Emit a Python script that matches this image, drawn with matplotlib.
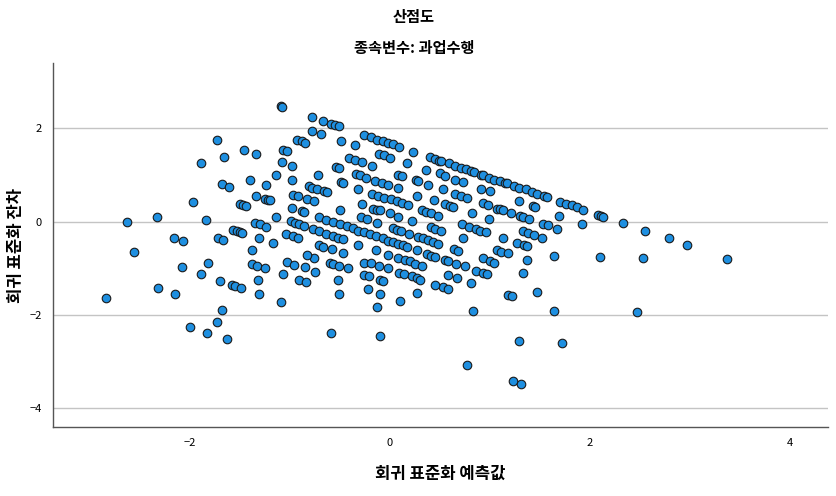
import numpy as np
import matplotlib
matplotlib.use("Agg")
import matplotlib.pyplot as plt

plt.rcParams['font.family'] = ['Noto Sans CJK KR', 'DejaVu Sans']

# 회귀 표준화 예측값 (x) / 회귀 표준화 잔차 (y)
pred = [
    -2.63, -2.33, -2.16, -2.56, -2.84, -2.32, -2.15,
    -1.09, -1.08, -1.73, -1.46, -1.34, -1.66, -1.89, -0.93, -0.88, -0.85, -1.07, -1.03,
    -1.08, -0.98, -1.14, -1.40, -0.98, -1.68, -1.61, -1.24, -0.81, -1.34, -0.97, -0.92,
    -0.83, -1.25, -1.22, -1.20, -1.97, -1.50, -1.47, -1.44,
    -0.78, -0.67, -0.59, -0.55, -0.51, -0.78, -0.69, -0.49, -0.35, -0.26, -0.19, -0.13,
    -0.07, -0.02, 0.03, 0.09, 0.23, -0.11, -0.06, 0.00, -0.41, -0.35, -0.28, -0.18, 0.17,
    -0.54, -0.51, -0.72, -0.34, -0.30, -0.24, -0.15, -0.08, -0.02, 0.08, 0.12, -0.49,
    -0.47, -0.32, 0.08, 0.26, 0.28, 0.38, 0.36, 0.40, 0.45, 0.49, -0.78, -0.73, -0.66,
    -0.63, -0.76, -0.18, -0.12, -0.06, 0.01, 0.07, 0.12, -0.28, 0.27, 0.44,
    0.51, 0.59, 0.65, 0.71, 0.76, 0.81, 0.84, 0.91, 0.93, 0.99, 1.04, 1.10, 1.15, 1.17,
    1.24, 1.29, 1.36, 1.42, 1.47, 1.54, 1.57, 1.70, 1.76, 1.82, 1.87, 0.50, 0.55, 0.65,
    0.73, 0.53, 0.65, 0.71, 0.77, 0.91, 1.00, 0.55, 0.60, 0.63, 0.93, 0.98, 1.29, 1.43,
    1.45,
    0.82, 1.07, 1.10, 1.13, 1.21, 1.30, 1.33, 1.39, 0.99, 1.69, 0.72, 0.79, 0.86, 0.90,
    0.96, 1.53, 1.58, 1.67, 0.73, 1.13, 1.33, 1.38, 1.44, 1.52, 0.64, 0.68, 1.07, 1.11,
    1.18, 1.27, 1.34, 1.37, 1.64, 0.55, 0.58, 0.66, 0.75, 0.93, 1.00, 1.04, 1.37, 0.58,
    0.67, 0.86, 0.93, 0.97, 1.33, 0.81, 0.53, 0.58, 1.18, 1.22, 1.47, 0.83, 1.64,
    -0.50, -0.17, -0.13, -0.10, 0.00, 0.08, 0.18, 0.32, 0.36, 0.41, 0.48, -0.29, -0.23,
    -0.13, 0.22, -0.71, -0.64, -0.57, -0.50, -0.43, -0.37, -0.32, -0.26, -0.20, -0.14,
    -0.07, -0.02, 0.03, 0.08, 0.13, 0.17, -0.77, -0.71, -0.64, -0.57, -0.52, -0.47,
    0.03, 0.07, 0.11, 0.19, 0.28, 0.33, 0.38, 0.43, 0.48, 0.41, 0.45, 0.51, -0.71, -0.67,
    -0.58, -0.47, -0.32, -0.14, -0.02, -0.76, -0.75, -0.60, -0.57, -0.51, -0.42, -0.26,
    -0.19, -0.11, -0.02, 0.08, 0.15, 0.20, 0.25, 0.32, 0.27, 0.37, 0.41, 0.45, -0.26,
    -0.21, -0.10, -0.07, 0.09, 0.14, 0.22, 0.27, 0.30, 0.45, -0.52, -0.51, -0.22, -0.10,
    -0.13, 0.10, 0.27,
    -0.98, -0.88, -0.86, -1.14, -1.84, -1.35, -1.30, -1.24, -0.99, -0.95, -0.91, -0.86,
    -1.57, -1.53, -1.50, -1.48, -2.07, -1.72, -1.67, -1.31, -1.17, -1.04, -0.97, -0.92,
    -1.38, -0.83, -1.82, -2.08, -1.38, -1.33, -1.25, -1.03, -0.96, -0.85, -1.89, -1.70,
    -1.58, -1.55, -1.49, -1.32, -1.07, -0.91, -0.84, -1.31, -1.09, -1.68,
    -2.00, -1.83, -1.73, -1.63, -0.59, -0.10, 1.29, 1.72, 0.77, 1.23, 1.31,
    1.93, 2.08, 2.11, 2.13, 2.33, 2.55, 2.79, 2.97, 3.37, 1.92, 2.10, 2.53, 2.47,
]
resid = [
    0.00, 0.09, -0.34, -0.64, -1.64, -1.42, -1.55,
    2.47, 2.46, 1.74, 1.54, 1.46, 1.39, 1.26, 1.76, 1.72, 1.69, 1.54, 1.52,
    1.27, 1.19, 1.01, 0.90, 0.89, 0.81, 0.75, 0.78, 0.76, 0.55, 0.58, 0.55,
    0.49, 0.49, 0.46, 0.46, 0.42, 0.37, 0.35, 0.33,
    2.24, 2.16, 2.10, 2.07, 2.04, 1.94, 1.87, 1.73, 1.64, 1.86, 1.81, 1.76,
    1.73, 1.69, 1.66, 1.60, 1.50, 1.46, 1.42, 1.37, 1.37, 1.33, 1.28, 1.20, 1.25,
    1.17, 1.14, 1.00, 1.02, 0.99, 0.94, 0.88, 0.83, 0.78, 1.01, 0.97, 0.85,
    0.82, 0.71, 0.72, 0.90, 0.88, 0.78, 1.11, 1.39, 1.35, 1.30, 0.73, 0.71, 0.65,
    0.64, 0.44, 0.60, 0.55, 0.50, 0.48, 0.44, 0.41, 0.38, 0.56, 0.46,
    1.30, 1.25, 1.19, 1.15, 1.12, 1.08, 1.07, 1.01, 0.99, 0.94, 0.90, 0.87, 0.83, 0.82,
    0.76, 0.73, 0.69, 0.64, 0.60, 0.55, 0.52, 0.42, 0.38, 0.35, 0.31, 1.05, 0.97, 0.90,
    0.85, 0.69, 0.60, 0.55, 0.50, 0.71, 0.65, 0.37, 0.33, 0.32, 0.39, 0.35, 0.44, 0.33,
    0.31,
    0.18, 0.28, 0.27, 0.24, 0.19, 0.12, 0.09, 0.05, 0.05, 0.13, -0.06, -0.11, -0.16, -0.19,
    -0.23, -0.04, -0.08, -0.15, -0.35, -0.36, -0.19, -0.24, -0.29, -0.34, -0.59, -0.63, -0.61, -0.64,
    -0.68, -0.45, -0.51, -0.53, -0.73, -0.83, -0.85, -0.90, -0.96, -0.78, -0.85, -0.88, -0.83, -1.14,
    -1.20, -1.06, -1.10, -1.13, -1.09, -1.31, -1.40, -1.45, -1.57, -1.60, -1.50, -1.92, -1.92,
    0.24, 0.28, 0.26, 0.24, 0.18, 0.11, 0.35, 0.24, 0.21, 0.18, 0.12, 0.09, 0.05,
    -0.02, 0.01, 0.09, 0.04, 0.00, -0.06, -0.10, -0.14, -0.19, -0.23, -0.27, -0.31,
    -0.36, -0.41, -0.44, -0.47, -0.51, -0.54, -0.16, -0.21, -0.26, -0.31, -0.34, -0.38,
    -0.14, -0.18, -0.20, -0.27, -0.33, -0.36, -0.40, -0.44, -0.47, -0.12, -0.15, -0.19, -0.51, -0.54,
    -0.59, -0.68, -0.50, -0.61, -0.71, -0.77, -1.08, -0.88, -0.90, -0.96, -1.00, -0.88,
    -0.89, -0.94, -1.00, -0.78, -0.83, -0.85, -0.90, -0.96, -0.61, -0.70, -0.74, -0.76, -1.14,
    -1.17, -1.25, -1.28, -1.09, -1.13, -1.17, -1.21, -1.24, -1.35, -1.24, -1.55, -1.45, -1.55,
    -1.83, -1.70, -1.52,
    0.29, 0.22, 0.21, 0.11, 0.03, -0.03, -0.06, -0.12, 0.01, -0.02, -0.06, -0.10,
    -0.18, -0.20, -0.23, -0.24, -0.41, -0.36, -0.39, -0.36, -0.46, -0.27, -0.31, -0.36,
    -0.61, -0.72, -0.89, -0.98, -0.91, -0.95, -1.00, -0.87, -0.92, -0.98, -1.13, -1.28,
    -1.35, -1.38, -1.43, -1.26, -1.13, -1.25, -1.30, -1.56, -1.72, -1.90,
    -2.25, -2.38, -2.15, -2.52, -2.39, -2.44, -2.56, -2.59, -3.08, -3.42, -3.48,
    0.26, 0.15, 0.13, 0.11, -0.03, -0.19, -0.36, -0.51, -0.79, -0.04, -0.76, -0.78, -1.94,
]

xticks = [-2, 0, 2, 4]
yticks = [-4, -2, 0, 2]

fig = plt.figure(figsize=(8.36, 4.96), dpi=100)
ax = fig.add_axes([0.0634, 0.139, 0.9266, 0.734])

ax.scatter(pred, resid, s=38, c='#1e8fe0', edgecolors='#1a1a1a', linewidths=0.8, zorder=3)

ax.set_xlim(-3.37, 4.38)
ax.set_ylim(-4.40, 3.40)
ax.set_xticks(xticks)
ax.set_yticks(yticks)
ax.tick_params(length=0, labelsize=8, pad=8)
ax.yaxis.grid(True, color='#c4c4c4', linewidth=1.0)
ax.set_axisbelow(True)
for s in ['top', 'right']:
    ax.spines[s].set_visible(False)
for s in ['left', 'bottom']:
    ax.spines[s].set_color('#555555')
    ax.spines[s].set_linewidth(1.0)

ax.set_xlabel('회귀 표준화 예측값', fontsize=12, fontweight='bold', labelpad=12)
fig.text(0.019, 0.506, '회귀 표준화 잔차', rotation=90, ha='center', va='center',
         fontsize=12, fontweight='bold')

fig.text(0.495, 0.966, '산점도', ha='center', va='center', fontsize=11, fontweight='bold')
fig.text(0.495, 0.903, '종속변수: 과업수행', ha='center', va='center', fontsize=11, fontweight='bold')

fig.savefig('out.png', dpi=100)
